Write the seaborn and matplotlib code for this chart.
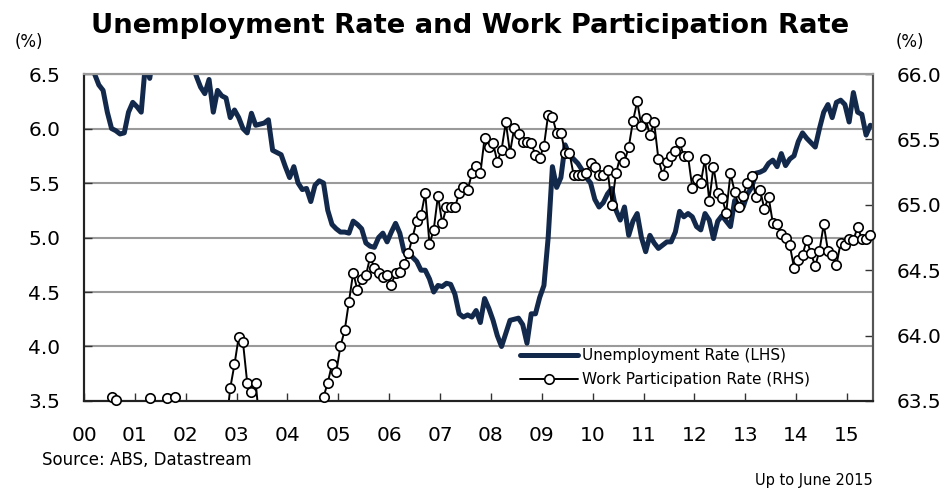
import numpy as np
import pandas as pd
import matplotlib
matplotlib.use("Agg")
import matplotlib.pyplot as plt
from matplotlib.lines import Line2D
import seaborn as sns

# monthly data, Jan 2000 .. Jun 2015
unemployment = [
    6.8, 6.65, 6.5, 6.4, 6.35, 6.15, 6.0, 5.98, 5.95, 5.96, 6.15, 6.24,
    6.2, 6.15, 6.6, 6.46, 6.7, 6.8, 6.9, 7.0, 7.2, 7.0, 6.9, 6.8,
    6.7, 6.6, 6.48, 6.38, 6.32, 6.45, 6.15, 6.35, 6.3, 6.28, 6.1, 6.17,
    6.1, 6.0, 5.96, 6.14, 6.03, 6.04, 6.05, 6.08, 5.8, 5.78, 5.76, 5.65,
    5.55, 5.65, 5.5, 5.44, 5.45, 5.33, 5.48, 5.52, 5.5, 5.25, 5.12, 5.08,
    5.05, 5.05, 5.04, 5.15, 5.12, 5.08, 4.95, 4.92, 4.91, 5.0, 5.04, 4.96,
    5.05, 5.13, 5.04, 4.87, 4.85, 4.82, 4.78, 4.7, 4.7, 4.62, 4.5, 4.56,
    4.55, 4.58, 4.57, 4.48, 4.3, 4.27, 4.29, 4.27, 4.33, 4.22, 4.44, 4.35,
    4.24, 4.1, 4.0, 4.12, 4.24, 4.25, 4.26, 4.2, 4.03, 4.3, 4.3, 4.45,
    4.56, 5.0, 5.65, 5.46, 5.55, 5.85, 5.76, 5.72, 5.68, 5.62, 5.55, 5.5,
    5.35, 5.28, 5.32, 5.4, 5.45, 5.25, 5.16, 5.28, 5.02, 5.15, 5.22, 5.0,
    4.87, 5.02, 4.95, 4.9, 4.93, 4.96, 4.96, 5.05, 5.24, 5.19, 5.22, 5.19,
    5.1, 5.07, 5.22, 5.16, 4.99, 5.15, 5.2, 5.15, 5.1, 5.34, 5.3, 5.28,
    5.4, 5.46, 5.59, 5.6, 5.62, 5.68, 5.71, 5.65, 5.77, 5.66, 5.72, 5.75,
    5.88, 5.96, 5.91, 5.87, 5.83, 6.0, 6.15, 6.22, 6.1, 6.24, 6.26, 6.22,
    6.06, 6.33, 6.15, 6.13, 5.94, 6.03,
]

participation = [
    63.3, 63.2, 63.25, 63.3, 63.35, 63.4, 63.53, 63.51, 63.4, 63.35, 63.3, 63.35,
    63.4, 63.3, 63.4, 63.52, 63.4, 63.35, 63.4, 63.52, 63.4, 63.53, 63.4, 63.3,
    63.25, 63.2, 63.3, 63.25, 63.3, 63.4, 63.35, 63.3, 63.4, 63.3, 63.6, 63.78,
    63.99, 63.95, 63.64, 63.57, 63.64, 63.3, 63.4, 63.35, 63.3, 63.4, 63.3, 63.25,
    63.3, 63.35, 63.3, 63.4, 63.35, 63.3, 63.4, 63.3, 63.53, 63.64, 63.78, 63.72,
    63.92, 64.04, 64.26, 64.48, 64.35, 64.43, 64.46, 64.6, 64.52, 64.48, 64.45, 64.46,
    64.39, 64.48, 64.49, 64.55, 64.63, 64.75, 64.88, 64.92, 65.09, 64.7, 64.81, 65.07,
    64.86, 64.98, 64.98, 64.98, 65.09, 65.14, 65.11, 65.24, 65.3, 65.24, 65.51, 65.44,
    65.47, 65.33, 65.42, 65.63, 65.4, 65.59, 65.54, 65.48, 65.48, 65.47, 65.38, 65.36,
    65.45, 65.69, 65.67, 65.55, 65.55, 65.4, 65.4, 65.23, 65.23, 65.23, 65.24, 65.32,
    65.29, 65.23, 65.23, 65.27, 65.0, 65.24, 65.37, 65.33, 65.44, 65.64, 65.79, 65.6,
    65.66, 65.53, 65.63, 65.35, 65.23, 65.33, 65.37, 65.41, 65.48, 65.37, 65.37, 65.13,
    65.2, 65.17, 65.35, 65.03, 65.29, 65.09, 65.05, 64.94, 65.24, 65.1, 64.98, 65.07,
    65.17, 65.22, 65.06, 65.11, 64.97, 65.06, 64.86, 64.85, 64.78, 64.75, 64.69, 64.52,
    64.58, 64.62, 64.73, 64.63, 64.53, 64.65, 64.85, 64.65, 64.62, 64.54, 64.71, 64.69,
    64.74, 64.73, 64.83, 64.74, 64.74, 64.77,
]

years = list(range(2000, 2016))
year_labels = [f"{y % 100:02d}" for y in years]
left_ticks = [3.5, 4.0, 4.5, 5.0, 5.5, 6.0, 6.5]
right_ticks = [63.5, 64.0, 64.5, 65.0, 65.5, 66.0]

df = pd.DataFrame({
    "t": 2000 + (np.arange(len(unemployment)) + 0.5) / 12,
    "unemp": unemployment,
    "part": participation,
})

sns.set_theme(style="white")
plt.rcParams["font.family"] = ["DejaVu Sans"]
plt.rcParams["text.color"] = "black"

NAVY = "#13294B"
GRID = "#9a9a9a"

fig = plt.figure(figsize=(9.46, 4.88), dpi=100)
ax1 = fig.add_axes([0.0888, 0.1783, 0.834, 0.670])
ax2 = ax1.twinx()

# ── unemployment (LHS)
sns.lineplot(data=df, x="t", y="unemp", ax=ax1, color=NAVY, lw=3.6,
             solid_capstyle="round", solid_joinstyle="round")
ax1.set_ylim(3.5, 6.5)
ax1.set_xlim(2000, 2015.51)
ax1.set_yticks(left_ticks)
ax1.set_yticklabels([f"{v:.1f}" for v in left_ticks])
ax1.set_xticks(years)
ax1.set_xticklabels(year_labels)
ax1.grid(axis="y", color=GRID, lw=1.5)
ax1.set_axisbelow(True)
ax1.set_xlabel("")
ax1.set_ylabel("")

# ── participation (RHS)
sns.lineplot(data=df, x="t", y="part", ax=ax2, color="black", lw=1.4)
vis = df[df["part"] >= 63.5]
sns.scatterplot(data=vis, x="t", y="part", ax=ax2, s=46, color="white",
                edgecolor="black", linewidth=1.2, zorder=3)
for coll in ax2.collections:
    coll.set_clip_on(False)
ax2.set_ylim(63.5, 66.0)
ax2.set_yticks(right_ticks)
ax2.set_yticklabels([f"{v:.1f}" for v in right_ticks])
ax2.set_xlabel("")
ax2.set_ylabel("")

for ax in (ax1, ax2):
    ax.tick_params(direction="in", length=6, width=1, color="#333333",
                   labelsize=14.5, pad=17, labelcolor="black")
ax1.tick_params(axis="x", pad=18)
ax1.tick_params(axis="y", left=True, right=False)
ax1.tick_params(axis="x", bottom=True)
ax2.tick_params(axis="y", right=True, left=False)

for ax in (ax1, ax2):
    ax.spines["left"].set_color("#222222")
    ax.spines["bottom"].set_color("#222222")
    ax.spines["right"].set_color("#555555")
    ax.spines["top"].set_color(GRID)
    for s in ax.spines.values():
        s.set_linewidth(1.5)

handles = [
    Line2D([], [], color=NAVY, lw=3.6),
    Line2D([], [], color="black", lw=1.4, marker="o", markersize=6.8,
           markerfacecolor="white", markeredgecolor="black", markeredgewidth=1.2),
]
ax2.legend(handles, ["Unemployment Rate (LHS)", "Work Participation Rate (RHS)"],
           loc="center left", bbox_to_anchor=(0.553, 0.102), frameon=False,
           fontsize=11, handlelength=3.8, handletextpad=0.25, labelspacing=0.6,
           borderpad=0, borderaxespad=0)

fig.text(0.497, 0.947, "Unemployment Rate and Work Participation Rate",
         ha="center", va="center", fontsize=19.7, fontweight="bold", color="black")
fig.text(0.030, 0.914, "(%)", ha="center", va="center", fontsize=12)
fig.text(0.962, 0.914, "(%)", ha="center", va="center", fontsize=12)
fig.text(0.044, 0.057, "Source: ABS, Datastream", ha="left", va="center", fontsize=12)
fig.text(0.923, 0.016, "Up to June 2015", ha="right", va="center", fontsize=10.5)

fig.savefig("out.png", dpi=100)
